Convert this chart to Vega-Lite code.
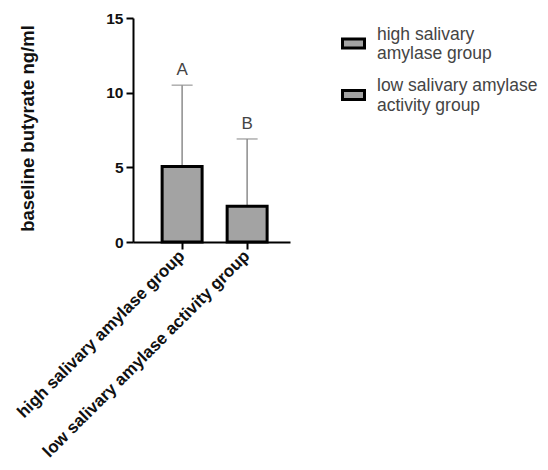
{
  "$schema": "https://vega.github.io/schema/vega-lite/v6.json",
  "width": 157,
  "height": 224,
  "autosize": {"type": "none"},
  "padding": {"left": 133, "top": 18, "right": 258, "bottom": 228},
  "background": "white",
  "config": {
    "view": {"stroke": null},
    "font": "Liberation Sans",
    "axis": {
      "grid": false,
      "domainColor": "black",
      "domainWidth": 2,
      "tickColor": "black",
      "tickWidth": 2,
      "tickSize": 7,
      "labelColor": "#111",
      "labelFont": "Liberation Sans",
      "titleFont": "Liberation Sans"
    }
  },
  "data": {
    "values": [
      {"group": "high salivary amylase group", "mean": 5.05, "upper": 10.5, "letter": "A"},
      {"group": "low salivary amylase activity group", "mean": 2.4, "upper": 6.9, "letter": "B"}
    ]
  },
  "encoding": {
    "x": {
      "field": "group",
      "type": "nominal",
      "sort": null,
      "scale": {"paddingInner": 0.385, "paddingOuter": 0.4, "align": 0.56},
      "axis": {
        "title": null,
        "labelAngle": -45,
        "labelAlign": "right",
        "labelBaseline": "middle",
        "labelFontSize": 17,
        "labelFontWeight": "bold",
        "labelPadding": 4,
        "labelLimit": 400
      }
    }
  },
  "layer": [
    {
      "mark": {"type": "rule", "color": "#8c8c8c", "strokeWidth": 1.5},
      "encoding": {
        "y": {"field": "mean", "type": "quantitative"},
        "y2": {"field": "upper"}
      }
    },
    {
      "mark": {"type": "tick", "color": "#8c8c8c", "thickness": 1.5, "size": 21, "orient": "horizontal"},
      "encoding": {
        "y": {"field": "upper", "type": "quantitative"}
      }
    },
    {
      "mark": {"type": "bar", "stroke": "black", "strokeWidth": 3},
      "encoding": {
        "y": {
          "field": "mean",
          "type": "quantitative",
          "scale": {"domain": [0, 15], "nice": false},
          "axis": {
            "values": [0, 5, 10, 15],
            "title": "baseline butyrate ng/ml",
            "titleFontSize": 18.5,
            "titleFontWeight": "bold",
            "titleColor": "#111",
            "titleX": -96,
            "titleY": 110,
            "labelFontSize": 15.5,
            "labelFontWeight": "bold",
            "labelPadding": 3
          }
        },
        "color": {
          "field": "group",
          "type": "nominal",
          "scale": {"range": ["#a3a3a3", "#a3a3a3"]},
          "legend": {
            "title": null,
            "orient": "none",
            "legendX": 208,
            "legendY": 4,
            "symbolType": "M-1,0.42H1V1.22H-1Z",
            "symbolSize": 484,
            "symbolStrokeColor": "black",
            "symbolStrokeWidth": 3,
            "symbolFillColor": "#a3a3a3",
            "labelFontSize": 17.5,
            "labelColor": "#444",
            "labelLimit": 300,
            "labelOffset": 11,
            "labelExpr": "datum.label == 'high salivary amylase group' ? ['high salivary', 'amylase group'] : ['low salivary amylase', 'activity group']",
            "rowPadding": 10.5
          }
        }
      }
    },
    {
      "mark": {"type": "text", "fontSize": 17, "color": "#444", "dy": -15, "baseline": "middle"},
      "encoding": {
        "y": {"field": "upper", "type": "quantitative"},
        "text": {"field": "letter"}
      }
    }
  ]
}
